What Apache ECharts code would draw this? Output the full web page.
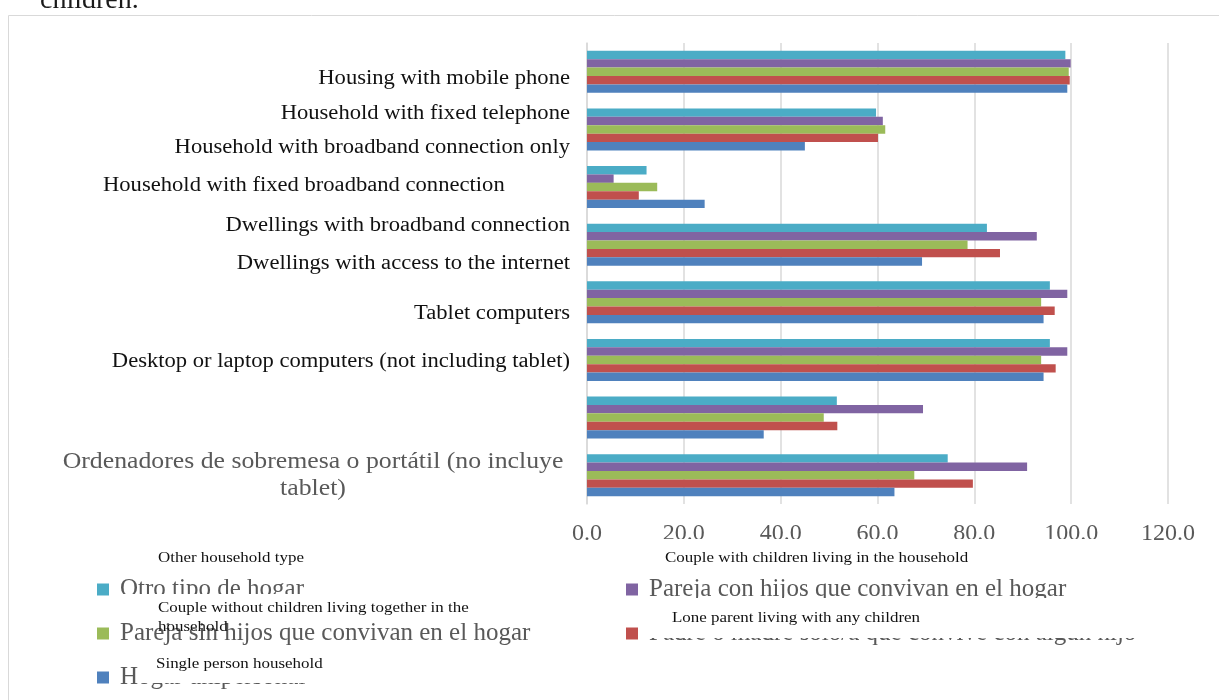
<!DOCTYPE html>
<html>
<head>
<meta charset="utf-8">
<title>Equipamiento de las viviendas por tipo de hogar</title>
<script src="https://cdn.jsdelivr.net/npm/echarts@6/dist/echarts.min.js"></script>
<style>
  html, body { margin: 0; padding: 0; background: #ffffff; }
  #chart { width: 1219px; height: 700px; }
</style>
</head>
<body>
<div id="chart"></div>
<script>
// Categories, listed top to bottom
const categories = [
  'Housing with mobile phone',
  'Household with fixed telephone',
  'Household with broadband connection only',
  'Household with fixed broadband connection',
  'Dwellings with broadband connection',
  'Dwellings with access to the internet',
  'Tablet computers',
  'Desktop or laptop computers (not including tablet)'
];
const spanishCategory = ['Ordenadores de sobremesa o portátil (no incluye', 'tablet)'];

// Series names (legend) and their English captions
const seriesNames = [
  'Otro tipo de hogar',
  'Pareja con hijos que convivan en el hogar',
  'Pareja sin hijos que convivan en el hogar',
  'Padre o madre sólo/a que convive con algún hijo',
  'Hogar unipersonal'
];
const seriesCaptions = [
  'Other household type',
  'Couple with children living in the household',
  ['Couple without children living together in the', 'household'],
  'Lone parent living with any children',
  'Single person household'
];

// Values (%), same order as categories
const otroTipo       = [98.8, 59.7, 12.3, 82.6, 95.6, 95.6, 51.6, 74.5];
const parejaConHijos = [99.9, 61.1,  5.5, 92.9, 99.2, 99.2, 69.4, 90.9];
const parejaSinHijos = [99.5, 61.6, 14.5, 78.6, 93.8, 93.8, 48.9, 67.6];
const monoparental   = [99.7, 60.1, 10.7, 85.3, 96.6, 96.8, 51.7, 79.7];
const unipersonal    = [99.2, 45.0, 24.3, 69.2, 94.3, 94.3, 36.5, 63.5];

const xTicks = ['0.0', '20.0', '40.0', '60.0', '80.0', '100.0', '120.0'];

const colors = ['#4BACC6', '#8064A2', '#9BBB59', '#C0504D', '#4F81BD'];
const seriesValues = [otroTipo, parejaConHijos, parejaSinHijos, monoparental, unipersonal];

const SERIF = '"Liberation Serif", "DejaVu Serif", serif';
const GREY = '#595959';
const WIDEN = 1.13;   // horizontal stretch for the caption texts

// Placement of the category captions on the left
const labelLayout = [
  { y: 79,  side: 'right' },
  { y: 114, side: 'right' },
  { y: 148, side: 'right' },
  { y: 186, side: 'left' },
  { y: 226, side: 'right' },
  { y: 264, side: 'right' },
  { y: 314, side: 'right' },
  { y: 362, side: 'right' }
];

const graphics = [];

function textEl(text, x, y, size, color, align, z, widen) {
  return {
    type: 'text', silent: true, z: z || 50,
    x: x, y: y, scaleX: widen || WIDEN,
    style: { text: text, font: size + 'px ' + SERIF, fill: color, align: align, verticalAlign: 'middle' }
  };
}

// frame and tail of the caption above the chart
graphics.push({
  type: 'rect', silent: true, z: 0,
  shape: { x: 8.5, y: 15.5, width: 1240, height: 720 },
  style: { fill: 'none', stroke: '#d9d9d9', lineWidth: 1 }
});
graphics.push({
  type: 'text', silent: true, z: 50, left: 40, top: -13,
  style: { text: 'children.', font: '28px ' + SERIF, fill: '#1a1a1a' }
});

// category captions
categories.forEach((name, i) => {
  const L = labelLayout[i];
  graphics.push(textEl(name, L.side === 'right' ? 570 : 103, L.y, 20, '#111111', L.side));
});
graphics.push(textEl(spanishCategory[0], 313, 462, 23, GREY, 'center', 50, 1.12));
graphics.push(textEl(spanishCategory[1], 313, 489, 23, GREY, 'center', 50, 1.12));

// English caption boxes laid over the legend
function captionBox(rect, lines, x, y0, lineStep) {
  graphics.push({
    type: 'rect', silent: true, z: 60,
    shape: rect, style: { fill: '#ffffff' }
  });
  (Array.isArray(lines) ? lines : [lines]).forEach((t, k) => {
    graphics.push(textEl(t, x, y0 + k * lineStep, 15, '#111111', 'left', 61));
  });
}
captionBox({ x: 150, y: 545, width: 175, height: 26 }, seriesCaptions[0], 158, 558, 0);
captionBox({ x: 648, y: 539, width: 462, height: 34 }, seriesCaptions[1], 665, 558, 0);
captionBox({ x: 113, y: 594, width: 440, height: 28 }, seriesCaptions[2], 158, 608, 19);
captionBox({ x: 640, y: 598, width: 500, height: 40 }, seriesCaptions[3], 672, 618, 0);
captionBox({ x: 139, y: 651, width: 290, height: 32 }, seriesCaptions[4], 156, 664, 0);

const legendCommon = {
  orient: 'vertical',
  selectedMode: false,
  padding: 0,
  itemWidth: 12,
  itemHeight: 12,
  itemGap: 19,
  icon: 'rect',
  textStyle: { fontFamily: SERIF, fontSize: 25, color: GREY, lineHeight: 25, padding: [0, 0, 0, 6] }
};

const chart = echarts.init(document.getElementById('chart'), null, { renderer: 'canvas' });
chart.setOption({
  animation: false,
  textStyle: { fontFamily: SERIF },
  grid: { left: 587, right: 51, top: 43, bottom: 196, containLabel: false },
  xAxis: {
    type: 'value', min: 0, max: 120, interval: 20,
    axisLine: { show: false }, axisTick: { show: false },
    splitLine: { show: true, lineStyle: { color: '#d9d9d9', width: 1.5 } },
    axisLabel: {
      margin: 18, fontSize: 24, color: GREY, fontFamily: SERIF,
      formatter: v => xTicks[Math.round(v / 20)]
    }
  },
  yAxis: {
    type: 'category', inverse: true, data: categories,
    axisLine: { show: true, lineStyle: { color: '#d9d9d9', width: 1.5 } },
    axisTick: { show: false },
    axisLabel: { show: false }
  },
  legend: [
    Object.assign({ left: 97, top: 577, data: [seriesNames[0], seriesNames[2], seriesNames[4]] }, legendCommon),
    Object.assign({ left: 626, top: 577, data: [seriesNames[1], seriesNames[3]] }, legendCommon)
  ],
  series: seriesNames.map((name, i) => ({
    name: name,
    type: 'bar',
    data: seriesValues[i],
    barGap: '0%',
    barCategoryGap: '27%',
    itemStyle: { color: colors[i] }
  })),
  graphic: graphics
});
</script>
</body>
</html>
